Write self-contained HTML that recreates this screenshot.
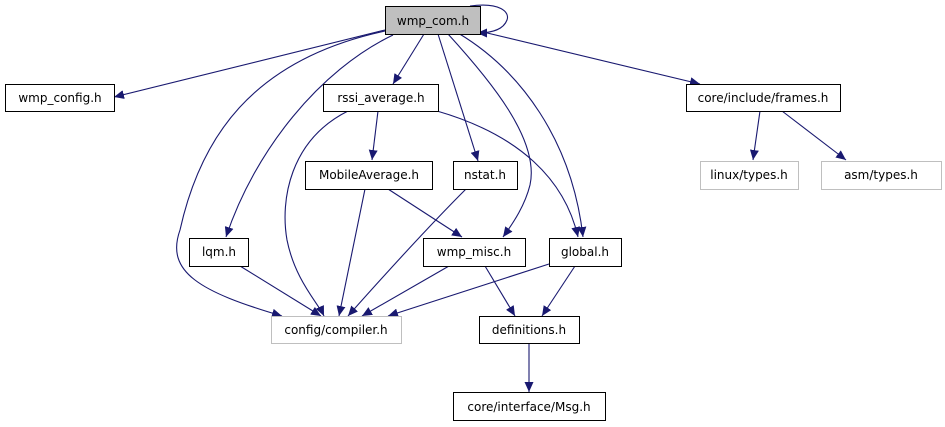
<!DOCTYPE html>
<html><head><meta charset="utf-8"><style>
html,body{margin:0;padding:0;background:#fff;}
svg{display:block;}
text{font-family:"DejaVu Sans","Liberation Sans",sans-serif;font-size:12px;fill:#000;}
</style></head><body>
<svg width="945" height="427" viewBox="0 0 945 427" xmlns="http://www.w3.org/2000/svg">
<defs>
<marker id="a" markerWidth="11" markerHeight="9" refX="10" refY="4.5" orient="auto" markerUnits="userSpaceOnUse">
<path d="M0,0 L10,4.5 L0,9 Z" fill="#191970"/>
</marker>
</defs>
<g fill="none" stroke="#191970" stroke-width="1.1" marker-end="url(#a)">
<path d="M385,30 L114,97"/>
<path d="M424,34 L393,84"/>
<path d="M483,32 L700,84"/>
<path d="M470,6 C500,2 510,12 507,20 C504,28 495,33 477,33"/>
<path d="M438,34 L478,161"/>
<path d="M448,34 C490,80 540,140 530,185 C525,205 514,222 503,237"/>
<path d="M458,33 C520,70 572,140 583,237"/>
<path d="M437,111 C520,135 565,180 578,237"/>
<path d="M393,35 C320,70 255,150 226,237"/>
<path d="M385,31 C250,60 200,140 180,230 C165,272 200,292 282,316"/>
<path d="M378,111 L372,160"/>
<path d="M348,111 C290,140 280,200 287,240 C295,280 318,303 324,316"/>
<path d="M365,189 L339,316"/>
<path d="M388,189 L462,237"/>
<path d="M466,189 Q420,235 348,316"/>
<path d="M240,266 L321,316"/>
<path d="M449,266 L362,316"/>
<path d="M549,264 L388,316"/>
<path d="M485,266 L515,316"/>
<path d="M575,266 L542,316"/>
<path d="M529,343 L529,392"/>
<path d="M760,111 L753,160"/>
<path d="M782,111 L846,160"/>
</g>
<g stroke-width="1">
<rect x="385.5" y="6.5" width="95" height="28" fill="#bfbfbf" stroke="#000"/>
<rect x="5.5" y="84.5" width="109" height="27" fill="#fff" stroke="#000"/>
<rect x="323.5" y="84.5" width="115" height="27" fill="#fff" stroke="#000"/>
<rect x="686.5" y="84.5" width="154" height="27" fill="#fff" stroke="#000"/>
<rect x="305.5" y="161.5" width="127" height="28" fill="#fff" stroke="#000"/>
<rect x="453.5" y="161.5" width="64" height="28" fill="#fff" stroke="#000"/>
<rect x="700.5" y="161.5" width="98" height="28" fill="#fff" stroke="#bfbfbf"/>
<rect x="821.5" y="161.5" width="120" height="28" fill="#fff" stroke="#bfbfbf"/>
<rect x="189.5" y="238.5" width="59" height="28" fill="#fff" stroke="#000"/>
<rect x="423.5" y="238.5" width="102" height="28" fill="#fff" stroke="#000"/>
<rect x="549.5" y="238.5" width="72" height="28" fill="#fff" stroke="#000"/>
<rect x="271.5" y="316.5" width="130" height="27" fill="#fff" stroke="#bfbfbf"/>
<rect x="479.5" y="316.5" width="100" height="27" fill="#fff" stroke="#000"/>
<rect x="453.5" y="392.5" width="152" height="28" fill="#fff" stroke="#000"/>
</g>
<g text-anchor="middle">
<text x="433" y="25">wmp_com.h</text>
<text x="60" y="102">wmp_config.h</text>
<text x="381" y="102">rssi_average.h</text>
<text x="763" y="102">core/include/frames.h</text>
<text x="369" y="179">MobileAverage.h</text>
<text x="485" y="179">nstat.h</text>
<text x="749" y="179">linux/types.h</text>
<text x="881" y="179">asm/types.h</text>
<text x="219" y="256">lqm.h</text>
<text x="474" y="256">wmp_misc.h</text>
<text x="585" y="256">global.h</text>
<text x="336" y="334">config/compiler.h</text>
<text x="529" y="334">definitions.h</text>
<text x="529" y="411">core/interface/Msg.h</text>
</g>
</svg>
</body></html>
